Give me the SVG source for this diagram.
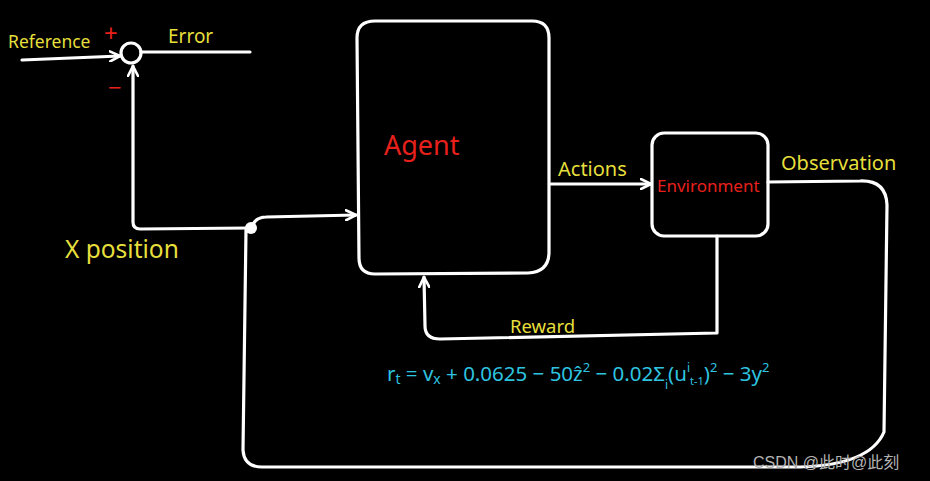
<svg xmlns="http://www.w3.org/2000/svg" width="930" height="481" viewBox="0 0 930 481">
<defs>
<style>
.ln{fill:none;stroke:#fff;stroke-width:3.2;stroke-linecap:round;stroke-linejoin:round}
.y{fill:#e6df3c;font-family:"Noto Sans","Liberation Sans",sans-serif}
.r{fill:#e8201c;font-family:"Noto Sans","Liberation Sans",sans-serif}
.c{fill:#2ec4e0;font-family:"Noto Sans","Liberation Sans",sans-serif}
</style>
<marker id="ah" viewBox="0 0 12 12" refX="11" refY="6" markerWidth="12" markerHeight="12" markerUnits="userSpaceOnUse" orient="auto">
<path d="M1,1 L11,6 L1,11" fill="none" stroke="#fff" stroke-width="2.6" stroke-linecap="round" stroke-linejoin="round"/>
</marker>
</defs>
<rect width="930" height="481" fill="#000"/>
<g id="connectors">
<path class="ln" d="M22,60 L120,56" marker-end="url(#ah)"/>
<path class="ln" d="M141,52 L250,52"/>
<path class="ln" d="M250,228 L140,229 Q133,229 133,222 L133,66" marker-end="url(#ah)"/>
<path class="ln" d="M252,226 Q256,217 266,217 L356,215" marker-end="url(#ah)"/>
<path class="ln" d="M246,230 L243,450 Q244,467 262,467 L800,467 Q870,465 884,432 L887,205 Q886,180 860,181 L768,182"/>
<path class="ln" d="M550,184 L651,184" marker-end="url(#ah)"/>
<path class="ln" d="M717,236 L717,333 L440,339 Q425,339 425,326 L424,277" marker-end="url(#ah)"/>
<circle cx="251" cy="228" r="6" fill="#fff"/>
</g>
<g id="sum">
<circle cx="131" cy="53" r="10" class="ln"/>
<text x="104" y="42" class="r" font-size="24">+</text>
<text x="108" y="96" class="r" font-size="24">−</text>
</g>
<g id="agent">
<path class="ln" d="M375,21 L532,21 Q549,21 549,38 L549,252 Q549,272 528,273 L375,274 Q359,274 359,258 L357,38 Q357,21 375,21 Z"/>
<text x="384" y="155" class="r" font-size="27">Agent</text>
</g>
<g id="environment">
<rect x="652" y="133" width="116" height="103" rx="12" class="ln"/>
<text x="657" y="192" class="r" font-size="17">Environment</text>
</g>
<g id="labels">
<text x="8" y="48" class="y" font-size="17.5">Reference</text>
<text x="168" y="43" class="y" font-size="19">Error</text>
<text x="65" y="258" class="y" font-size="24.5">X position</text>
<text x="558" y="176" class="y" font-size="20">Actions</text>
<text x="781" y="170" class="y" font-size="20">Observation</text>
<text x="510" y="333" class="y" font-size="18.5">Reward</text>
<text x="387" y="381" class="c" font-size="20.5">r<tspan font-size="14" dy="3">t</tspan><tspan dy="-3"> = v</tspan><tspan font-size="14" dy="3">x</tspan><tspan dy="-3"> + 0.0625 − 50ẑ</tspan><tspan font-size="13" dy="-9">2</tspan><tspan dy="9"> − 0.02Σ</tspan><tspan font-size="12" dy="8">i</tspan><tspan dy="-8">(u</tspan><tspan font-size="12" dy="-9">i</tspan><tspan font-size="11" dy="13">t-1</tspan><tspan dy="-4">)</tspan><tspan font-size="13" dy="-9">2</tspan><tspan dy="9"> − 3y</tspan><tspan font-size="13" dy="-9">2</tspan></text>
</g>
<text x="753" y="468" fill="#b4b4b4" font-size="16" font-family="'Liberation Sans','Noto Sans CJK SC',sans-serif">CSDN @此时@此刻</text>
</svg>
